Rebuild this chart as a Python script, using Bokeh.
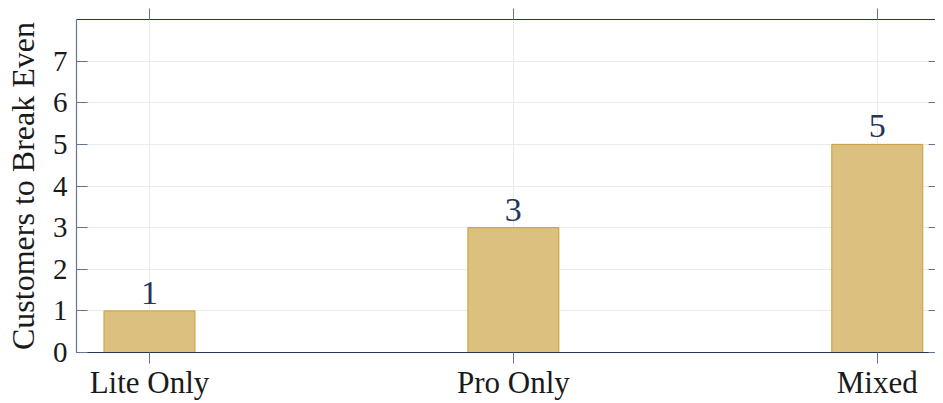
from bokeh.plotting import figure
from bokeh.models import Range1d, FixedTicker, LinearAxis
from bokeh.core.properties import value
from bokeh.embed import file_html
from bokeh.resources import INLINE

categories = ["Lite Only", "Pro Only", "Mixed"]
customers = [1, 3, 5]
y_ticks = [0, 1, 2, 3, 4, 5, 6, 7]

xs = list(range(1, len(categories) + 1))
labels = [str(v) for v in customers]

FONT = "Liberation Serif"
NAVY = "#26355a"
SLATE = "#66748f"

p = figure(width=935, height=402, output_backend="svg", toolbar_location=None,
           x_range=Range1d(0.7995, 3.16), y_range=Range1d(0, 8),
           min_border_left=76, min_border_top=19, min_border_bottom=49,
           min_border_right=0, background_fill_color="white",
           border_fill_color="white", outline_line_color=None)

p.vbar(x=xs, top=customers, width=0.25, bottom=0,
       fill_color="#dbc07f", line_color="#c99d35", line_width=1)

p.text(x=xs, y=customers, text=labels, text_align="center",
       text_baseline="bottom", y_offset=-7,
       text_font=value(FONT), text_font_size="34px", text_color=NAVY)

# bottom axis
xa = p.xaxis[0]
xa.ticker = FixedTicker(ticks=xs)
xa.major_label_overrides = {x: c for x, c in zip(xs, categories)}
xa.major_label_text_font = FONT
xa.major_label_text_font_size = "31px"
xa.major_label_text_color = "#1a1a1a"
xa.major_label_standoff = 1
xa.major_tick_in = 0
xa.major_tick_out = 11
xa.major_tick_line_color = SLATE
xa.minor_tick_line_color = None
xa.axis_line_color = NAVY
xa.axis_line_width = 1.2

# left axis
ya = p.yaxis[0]
ya.ticker = FixedTicker(ticks=y_ticks)
ya.axis_label = "Customers to Break Even"
ya.axis_label_text_font = FONT
ya.axis_label_text_font_size = "32px"
ya.axis_label_text_font_style = "normal"
ya.axis_label_text_color = "#1a1a1a"
ya.axis_label_standoff = 9
ya.major_label_text_font = FONT
ya.major_label_text_font_size = "29px"
ya.major_label_text_color = "#1a1a1a"
ya.major_label_standoff = 9
ya.major_tick_in = 11
ya.major_tick_out = 0
ya.major_tick_line_color = SLATE
ya.minor_tick_line_color = None
ya.axis_line_color = SLATE
ya.axis_line_width = 1.2

# top axis (ticks only)
top = LinearAxis(ticker=FixedTicker(ticks=xs), major_label_text_font_size="1px",
                 major_label_text_color=None, major_label_standoff=0,
                 major_tick_in=0, major_tick_out=11,
                 major_tick_line_color=SLATE, minor_tick_line_color=None,
                 axis_line_color=NAVY, axis_line_width=1.2)
p.add_layout(top, "above")

# right axis (inner ticks only)
right = LinearAxis(ticker=FixedTicker(ticks=y_ticks), major_label_text_font_size="1px",
                   major_label_text_color=None, major_label_standoff=0,
                   major_tick_in=7, major_tick_out=0,
                   major_tick_line_color=SLATE, minor_tick_line_color=None,
                   axis_line_color=None)
p.add_layout(right, "right")

p.xgrid.ticker = FixedTicker(ticks=xs)
p.ygrid.ticker = FixedTicker(ticks=y_ticks)
p.xgrid.grid_line_color = "#ebebeb"
p.ygrid.grid_line_color = "#ebebeb"

open("out.html", "w").write(file_html(p, INLINE))
